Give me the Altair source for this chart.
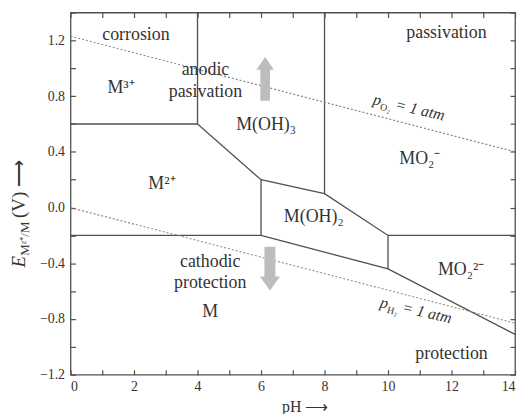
import altair as alt
import pandas as pd

# ---------------- data ----------------
# boundary polylines between stability regions (pH, E / V)
BOUND_ID = ["a", "a",
            "b", "b", "b", "b", "b", "b",
            "c", "c",
            "d", "d",
            "e", "e", "e", "e",
            "f", "f"]
BOUND_PH = [0, 4,
            4, 4, 6, 8, 10, 14,
            8, 8,
            6, 6,
            0, 6, 10, 14,
            10, 10]
BOUND_E = [0.6, 0.6,
           1.4, 0.6, 0.2, 0.1, -0.2, -0.2,
           1.4, 0.1,
           0.2, -0.2,
           -0.2, -0.2, -0.44, -0.91,
           -0.2, -0.44]

# water stability lines (dotted)
WATER_ID = ["O2", "O2", "H2", "H2"]
WATER_PH = [0, 14, 0, 14]
WATER_E = [1.23, 0.40, 0.0, -0.83]

# region labels
LABEL_TEXT = ["corrosion", "passivation", "M³⁺", "anodic", "pasivation",
              "M(OH)₃", "MO₂⁻", "M²⁺", "M(OH)₂", "cathodic", "protection",
              "M", "MO₂²⁻", "protection"]
LABEL_PH = [2.06, 11.84, 1.59, 4.25, 4.25, 6.16, 11.0, 2.88, 7.66, 4.4, 4.4,
            4.4, 12.3, 12.0]
LABEL_E = [1.24, 1.25, 0.855, 0.99, 0.83, 0.59, 0.35, 0.17, -0.07, -0.39,
           -0.54, -0.75, -0.45, -1.05]

# gas pressure labels along water lines
GAS_SUB = ["O₂", "H₂"]
GAS_PH = [9.5, 9.72]
GAS_E = [0.743, -0.713]

# gray arrows
ARROW_DIR = ["up", "down"]
ARROW_PH = [6.13, 6.28]
ARROW_E = [0.924, -0.439]

X_LABELS = [0, 2, 4, 6, 8, 10, 12, 14]
X_TICKS = list(range(0, 15))
Y_LABELS = [-1.2, -0.8, -0.4, 0.0, 0.4, 0.8, 1.2]
Y_TICKS = [-1.2, -1.0, -0.8, -0.6, -0.4, -0.2, 0.0, 0.2, 0.4, 0.6, 0.8,
           1.0, 1.2, 1.4]

# ---------------- style ----------------
SERIF = "Liberation Serif"
TXT = "#333333"
LINE = "#505050"
W, H = 448, 365

xs = alt.Scale(domain=[0, 14], nice=False, zero=False)
ys = alt.Scale(domain=[-1.2, 1.4], nice=False, zero=False)

df_b = pd.DataFrame({"id": BOUND_ID, "ph": BOUND_PH, "e": BOUND_E,
                     "o": list(range(len(BOUND_ID)))})
df_w = pd.DataFrame({"id": WATER_ID, "ph": WATER_PH, "e": WATER_E})
df_l = pd.DataFrame({"t": LABEL_TEXT, "ph": LABEL_PH, "e": LABEL_E})
df_g = pd.DataFrame({"sub": GAS_SUB, "ph": GAS_PH, "e": GAS_E})
df_a = pd.DataFrame({"dir": ARROW_DIR, "ph": ARROW_PH, "e": ARROW_E})
df_one = pd.DataFrame({"k": [0]})


def tick_axis(orient, values):
    # axis moved onto the opposite frame edge so its ticks point inward
    return alt.Axis(orient=orient, values=values, labels=False, domain=False,
                    grid=False, ticks=True, tickSize=5, tickColor=LINE,
                    tickWidth=1.2, title=None,
                    offset=-(H if orient in ("top", "bottom") else W))


label_x_axis = alt.Axis(orient="bottom", values=X_LABELS, ticks=False,
                        domain=False, grid=False, labelPadding=5,
                        labelFont=SERIF, labelFontSize=14, labelColor=TXT,
                        title="pH ⟶", titleFont=SERIF, titleFontSize=16,
                        titleFontWeight="normal", titleColor=TXT,
                        titleX=236, titleY=37, titleBaseline="alphabetic")
label_y_axis = alt.Axis(orient="left", values=Y_LABELS, format=".1f",
                        ticks=False, domain=False, grid=False, labelPadding=6,
                        labelFont=SERIF, labelFontSize=14, labelColor=TXT,
                        title=None)

bounds = alt.Chart(df_b).mark_line(color=LINE, strokeWidth=1.3).encode(
    x=alt.X("ph:Q", scale=xs, axis=label_x_axis),
    y=alt.Y("e:Q", scale=ys, axis=label_y_axis),
    detail="id:N", order="o:Q")

# inward ticks on bottom & left
water = alt.Chart(df_w).mark_line(color="#8a8a8a", strokeWidth=1.2,
                                  strokeDash=[2, 2]).encode(
    x=alt.X("ph:Q", scale=xs, axis=tick_axis("top", X_TICKS)),
    y=alt.Y("e:Q", scale=ys, axis=tick_axis("right", Y_TICKS)),
    detail="id:N")

UP = ("M0,-1L0.4,-0.42L0.22,-0.42L0.22,1L-0.22,1L-0.22,-0.42L-0.4,-0.42Z")
DOWN = ("M0,1L0.46,0.35L0.25,0.35L0.25,-1L-0.25,-1L-0.25,0.35L-0.46,0.35Z")

# inward ticks on top & right
arrows = alt.Chart(df_a).mark_point(filled=True, opacity=1, size=1950,
                                    color="#bdbdbd", strokeWidth=0).encode(
    x=alt.X("ph:Q", scale=xs, axis=tick_axis("bottom", X_TICKS)),
    y=alt.Y("e:Q", scale=ys, axis=tick_axis("left", Y_TICKS)),
    shape=alt.Shape("dir:N", scale=alt.Scale(domain=["up", "down"],
                                             range=[UP, DOWN]), legend=None))

labels = alt.Chart(df_l).mark_text(font=SERIF, fontSize=18, color=TXT,
                                   baseline="middle").encode(
    x=alt.X("ph:Q", scale=xs, axis=None),
    y=alt.Y("e:Q", scale=ys, axis=None),
    text="t:N")

ANG = 13
gas_p = alt.Chart(df_g).mark_text(text="p", font=SERIF, fontStyle="italic",
                                  fontSize=16, color=TXT, angle=ANG,
                                  align="left", baseline="alphabetic").encode(
    x=alt.X("ph:Q", scale=xs, axis=None), y=alt.Y("e:Q", scale=ys, axis=None))
gas_sub = alt.Chart(df_g).mark_text(font=SERIF, fontSize=10, color=TXT,
                                    angle=ANG, align="left", dx=8.5, dy=4,
                                    baseline="alphabetic").encode(
    x=alt.X("ph:Q", scale=xs, axis=None), y=alt.Y("e:Q", scale=ys, axis=None),
    text="sub:N")
gas_rest = alt.Chart(df_g).mark_text(text="= 1 atm", font=SERIF,
                                     fontStyle="italic", fontSize=16,
                                     color=TXT, angle=ANG, align="left",
                                     dx=23, baseline="alphabetic").encode(
    x=alt.X("ph:Q", scale=xs, axis=None), y=alt.Y("e:Q", scale=ys, axis=None))

# y-axis title pieces (rotated)
YT_X, YT_Y = -46, 257
yt1 = alt.Chart(df_one).mark_text(text="E", font=SERIF, fontStyle="italic",
                                  fontSize=19, color=TXT, angle=270,
                                  align="left", baseline="alphabetic").encode(
    x=alt.value(YT_X), y=alt.value(YT_Y))
yt2 = alt.Chart(df_one).mark_text(text="Mᶻ⁺/M", font=SERIF, fontSize=13,
                                  color=TXT, angle=270, align="left", dx=12,
                                  dy=4, baseline="alphabetic").encode(
    x=alt.value(YT_X), y=alt.value(YT_Y))
yt3 = alt.Chart(df_one).mark_text(text="(V) ⟶", font=SERIF, fontSize=19,
                                  color=TXT, angle=270, align="left", dx=50,
                                  baseline="alphabetic").encode(
    x=alt.value(YT_X), y=alt.value(YT_Y))

chart = alt.layer(bounds, water, arrows, labels, gas_p, gas_sub, gas_rest,
                  yt1, yt2, yt3).resolve_axis(
    x="independent", y="independent").properties(
    width=W, height=H,
    autosize=alt.AutoSizeParams(type="none"),
    padding={"left": 63, "top": 3, "right": 5, "bottom": 38},
    background="white",
).configure_view(stroke=LINE, strokeWidth=1.3)

chart.save("out.html", embed_options={"renderer": "svg", "actions": False})
